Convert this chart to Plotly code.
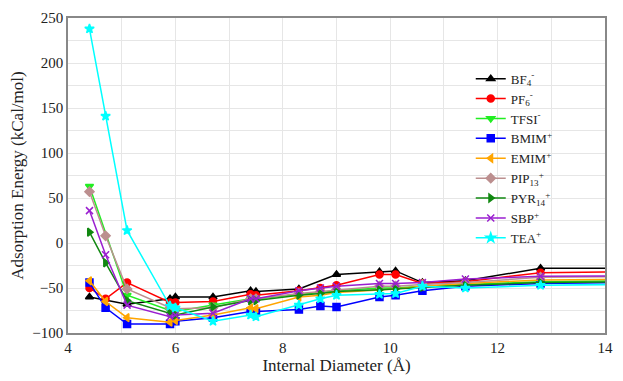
import plotly.graph_objects as go

x_diam = [4.4, 4.7, 5.1, 5.9, 6.0, 6.7, 7.4, 7.5, 8.3, 8.7, 9.0, 9.8, 10.1, 10.6, 11.4, 12.8, 16.0]

bf4 = [-60, None, -68, -62, -60, -60, -53, -54, -51, None, -35, -32, -31, -44, -42, -28, -28]
pf6 = [-50, -62, -44, -66, -66, -65, -57, -58, -53, -50, -47, -35, -35, -45, -43, -33, -31]
tfsi = [63, None, -58, -75, -76, -69, -62, -62, -57, -55, -53, -50, -50, -48, -46, -43, -41]
bmim = [-44, -72, -90, -90, -87, -83, -76, -76, -74, -70, -71, -60, -58, -53, -48, -45, -43]
emim = [-42, -65, -83, -88, -86, -80, -72, -73, -60, -58, -55, -52, -51, -48, -45, -41, -40]
pip13 = [57, 8, -51, -72, -73, -72, -62, -62, -56, -54, -52, -48, -48, -46, -44, -38, -37]
pyr14 = [12, -22, -64, -78, -80, -71, -64, -64, -58, -56, -54, -52, -51, -49, -47, -44, -42]
sbp = [36, -13, -69, -82, -80, -78, -62, -62, -53, -50, -48, -45, -45, -44, -40, -37, -36]
tea = [238, 141, 14, -70, -72, -87, -80, -82, -69, -62, -58, -57, -56, -48, -50, -47, -45]

names = ["BF<sub>4</sub><sup>-</sup>", "PF<sub>6</sub><sup>-</sup>", "TFSI<sup>-</sup>",
         "BMIM<sup>+</sup>", "EMIM<sup>+</sup>", "PIP<sub>13</sub><sup>+</sup>",
         "PYR<sub>14</sub><sup>+</sup>", "SBP<sup>+</sup>", "TEA<sup>+</sup>"]
series = [bf4, pf6, tfsi, bmim, emim, pip13, pyr14, sbp, tea]
colors = ["#000000", "#ff0000", "#22ee22", "#0000ff", "#ffa500", "#bc8f8f", "#118811", "#9a1fd0", "#00ffff"]
symbols = ["triangle-up", "circle", "triangle-down", "square", "triangle-left", "diamond",
           "triangle-right", "x-thin-open", "star"]

SERIF = "Liberation Serif, Times New Roman, serif"

fig = go.Figure()
for nm, ys, c, s in zip(names, series, colors, symbols):
    fig.add_trace(go.Scatter(
        x=x_diam, y=ys, name=nm, mode="lines+markers", connectgaps=True,
        line=dict(color=c, width=1.5),
        marker=dict(color=c, symbol=s, size=7, line=dict(color=c, width=1.5)),
    ))

fig.update_layout(
    width=623, height=381,
    margin=dict(l=68, r=10, t=17, b=35),
    paper_bgcolor="white", plot_bgcolor="white",
    font=dict(family=SERIF, size=15, color="#222"),
    legend=dict(x=0.75, y=0.855, xanchor="left", yanchor="top",
                bgcolor="rgba(255,255,255,0)", font=dict(family=SERIF, size=13),
                tracegroupgap=0, itemwidth=30),
    xaxis=dict(range=[4, 14], dtick=2, tick0=4, showgrid=True, gridcolor="#e6e6e6",
               minor=dict(dtick=1, showgrid=True, gridcolor="#e6e6e6"),
               showline=True, linecolor="#888", linewidth=1.5, mirror=True,
               zeroline=False, ticks="", tickfont=dict(family=SERIF, size=15),
               title=dict(text="Internal Diameter (Å)", font=dict(family=SERIF, size=17), standoff=3)),
    yaxis=dict(range=[-100, 250], dtick=50, showgrid=True, gridcolor="#e6e6e6",
               minor=dict(dtick=25, showgrid=True, gridcolor="#e6e6e6"),
               showline=True, linecolor="#888", linewidth=1.5, mirror=True,
               zeroline=False, ticks="", tickfont=dict(family=SERIF, size=15),
               title=dict(text="Adsorption Energy (kCal/mol)", font=dict(family=SERIF, size=17), standoff=4)),
)

fig.write_html("out.html", post_script="document.body.style.margin='0';",
               config={"displayModeBar": False})
